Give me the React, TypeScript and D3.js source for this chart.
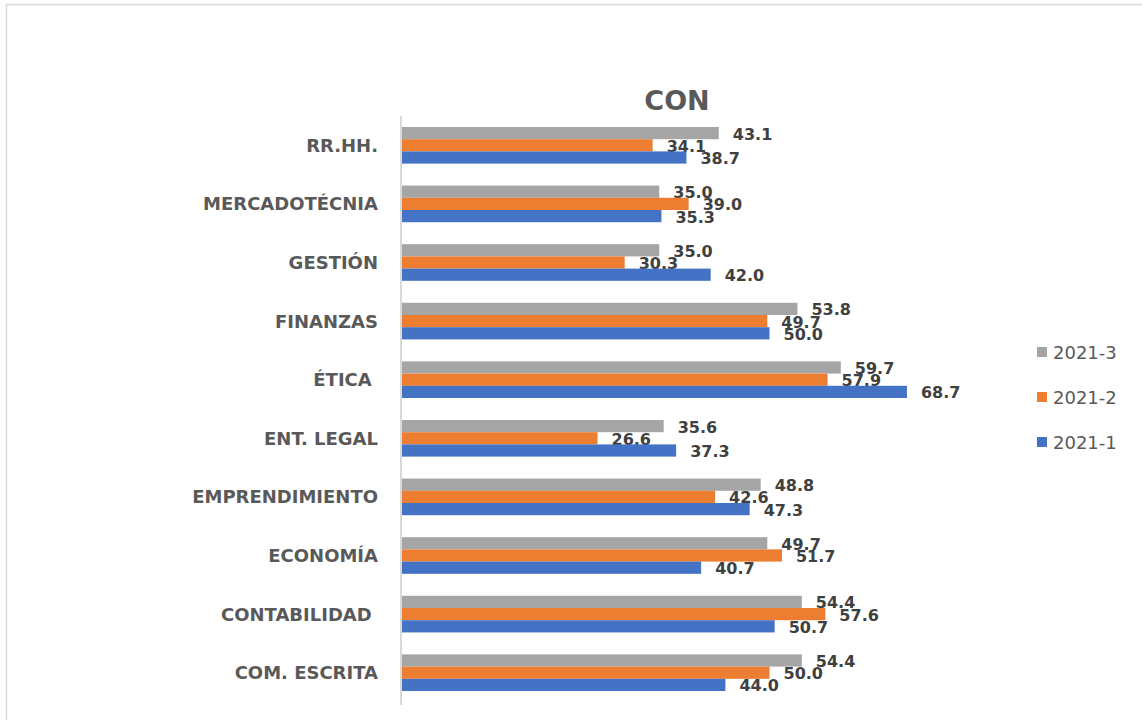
import React from "react";
import * as d3 from "d3";

const categories = [
  "RR.HH.",
  "MERCADOTÉCNIA",
  "GESTIÓN",
  "FINANZAS",
  "ÉTICA ",
  "ENT. LEGAL",
  "EMPRENDIMIENTO",
  "ECONOMÍA",
  "CONTABILIDAD ",
  "COM. ESCRITA",
];
const seriesNames = ["2021-3", "2021-2", "2021-1"];
const values2021_3 = [43.1, 35.0, 35.0, 53.8, 59.7, 35.6, 48.8, 49.7, 54.4, 54.4];
const values2021_2 = [34.1, 39.0, 30.3, 49.7, 57.9, 26.6, 42.6, 51.7, 57.6, 50.0];
const values2021_1 = [38.7, 35.3, 42.0, 50.0, 68.7, 37.3, 47.3, 40.7, 50.7, 44.0];
const seriesColors = ["#A5A5A5", "#ED7D31", "#4472C4"];
const title = "CON";

const W = 1142;
const H = 720;

export default function App() {
  const seriesValues = [values2021_3, values2021_2, values2021_1];
  const x = d3.scaleLinear().domain([0, 80]).range([402, 402 + 80 * 7.35]);
  const y = d3
    .scaleBand<string>()
    .domain(categories)
    .range([116, 702])
    .paddingInner(0.375)
    .paddingOuter(0.1875);
  const inner = d3
    .scaleBand<string>()
    .domain(seriesNames)
    .range([0, y.bandwidth()]);
  const font = "'DejaVu Sans', sans-serif";

  return (
    <svg
      width={W}
      height={H}
      style={{ position: "absolute", left: 0, top: 0, background: "#fff" }}
    >
      <rect x={6.5} y={4.5} width={W + 10} height={H + 10} fill="#fff" stroke="#D9D9D9" strokeWidth={1.5} />
      <text
        x={677}
        y={100}
        textAnchor="middle"
        fontFamily={font}
        fontWeight="bold"
        fontSize={27}
        fill="#595959"
        dominantBaseline="central"
      >
        {title}
      </text>
      {categories.map((c, i) => (
        <g key={c}>
          {seriesNames.map((s, j) => {
            const v = seriesValues[j][i];
            const by = (y(c) as number) + (inner(s) as number);
            return (
              <g key={s}>
                <rect
                  x={x(0)}
                  y={by}
                  width={x(v) - x(0)}
                  height={inner.bandwidth()}
                  fill={seriesColors[j]}
                />
                <text
                  x={x(v) + 14}
                  y={by + inner.bandwidth() / 2 + 1}
                  fontFamily={font}
                  fontWeight="bold"
                  fontSize={16}
                  fill="#404040"
                  dominantBaseline="central"
                >
                  {v.toFixed(1)}
                </text>
              </g>
            );
          })}
          <text
            x={378}
            y={(y(c) as number) + y.bandwidth() / 2}
            textAnchor="end"
            fontFamily={font}
            fontWeight="bold"
            fontSize={18}
            fill="#595959"
            dominantBaseline="central"
            style={{ whiteSpace: "pre" }}
          >
            {c}
          </text>
        </g>
      ))}
      <line x1={401} x2={401} y1={116} y2={705} stroke="#D9D9D9" strokeWidth={2} />
      {seriesNames.map((s, j) => (
        <g key={s} transform={`translate(1037, ${352 + j * 45})`}>
          <rect x={0} y={-5} width={10} height={10} fill={seriesColors[j]} />
          <text
            x={16}
            y={0}
            fontFamily={font}
            fontSize={18}
            fill="#595959"
            dominantBaseline="central"
          >
            {s}
          </text>
        </g>
      ))}
    </svg>
  );
}
